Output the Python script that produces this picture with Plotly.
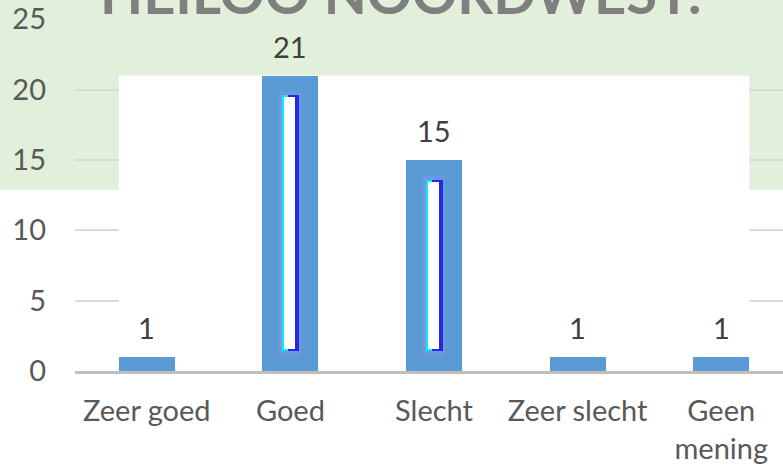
import plotly.graph_objects as go

# ---- data ----
categories = ["Zeer goed", "Goed", "Slecht", "Zeer slecht", "Geen<br>mening"]
values = [1, 21, 15, 1, 1]
y_tick_values = [0, 5, 10, 15, 20, 25]
title_text = "HEILOO NOORDWEST:"

# ---- styles ----
BAR_BLUE = "#5B9BD5"
GREEN = "#E2EFDA"
GRID = "#D9D9D9"
AXIS = "#BFBFBF"
LABEL = "#595959"
VALUE = "#404040"
FONT = "Lato"
bar_w = 0.39
inset = 1.4

fig = go.Figure()

# main bars
fig.add_trace(go.Bar(x=categories, y=values, width=bar_w,
                     marker=dict(color=BAR_BLUE, line=dict(width=0)),
                     hoverinfo="skip", showlegend=False))

# inner glow decoration for tall bars
deco_x = [c for c, v in zip(categories, values) if v > 2 * inset + 1]
deco_h = [v - 2 * inset for v in values if v > 2 * inset + 1]

fig.add_trace(go.Bar(x=deco_x, y=[h + 0.5 for h in deco_h], base=inset - 0.25,
                     width=0.155, offset=-0.078,
                     marker=dict(color="#8A9AF0", line=dict(width=0)), opacity=0.35,
                     hoverinfo="skip", showlegend=False))
fig.add_trace(go.Bar(x=deco_x, y=deco_h, base=inset, width=0.093, offset=-0.058,
                     marker=dict(color="#10E8FF", line=dict(width=0)),
                     hoverinfo="skip", showlegend=False))
fig.add_trace(go.Bar(x=deco_x, y=deco_h, base=inset, width=0.073, offset=-0.014,
                     marker=dict(color="#2626E6", line=dict(width=0)),
                     hoverinfo="skip", showlegend=False))
fig.add_trace(go.Bar(x=deco_x, y=[h - 0.3 for h in deco_h], base=inset + 0.15,
                     width=0.076, offset=-0.042,
                     marker=dict(color="#FFFFFF", line=dict(width=0)),
                     hoverinfo="skip", showlegend=False))

# value labels
annotations = []
for c, v in zip(categories, values):
    annotations.append(dict(x=c, y=v, xref="x", yref="y", text=str(v),
                            showarrow=False, yanchor="middle", yshift=29,
                            font=dict(family=FONT, size=29, color=VALUE)))

# title (partially cut off at the top)
annotations.append(dict(x=0.46, y=0.975, xref="paper", yref="paper",
                        text=title_text, showarrow=False,
                        xanchor="center", yanchor="bottom",
                        font=dict(family=FONT, size=56, color="#7F7F7F",
                                  weight=700)))

shapes = [
    # green background band at the top
    dict(type="rect", xref="paper", yref="paper", x0=-0.2, x1=1.1,
         y0=0.514, y1=1.2, fillcolor=GREEN, line=dict(width=0), layer="below"),
    # white block covering the grid between first and last bars
    dict(type="rect", xref="x", yref="y",
         x0=-bar_w / 2, x1=len(categories) - 1 + bar_w / 2,
         y0=0, y1=max(values), fillcolor="#FFFFFF", line=dict(width=0),
         layer="between"),
]

fig.update_layout(
    width=783, height=466,
    margin=dict(l=75, r=0, t=19, b=95, autoexpand=False),
    paper_bgcolor="#FFFFFF", plot_bgcolor="#FFFFFF",
    barmode="overlay", bargap=0,
    showlegend=False,
    annotations=annotations, shapes=shapes,
    font=dict(family=FONT, color=LABEL),
    xaxis=dict(type="category", range=[-0.5, 4.43], showgrid=False,
               showline=True, linecolor=AXIS, linewidth=3, ticks="",
               tickfont=dict(family=FONT, size=29, color=LABEL),
               ticklabelstandoff=12, fixedrange=True, automargin=False),
    yaxis=dict(range=[0, 25.02], tickvals=y_tick_values, showgrid=True,
               gridcolor=GRID, gridwidth=2, zeroline=False, showline=False,
               ticks="", tickfont=dict(family=FONT, size=29, color=LABEL),
               ticklabelstandoff=28, fixedrange=True, automargin=False),
)

fig.write_html("out.html",
               config={"displayModeBar": False, "staticPlot": True},
               post_script="document.body.style.margin='0';document.body.style.overflow='hidden';")
